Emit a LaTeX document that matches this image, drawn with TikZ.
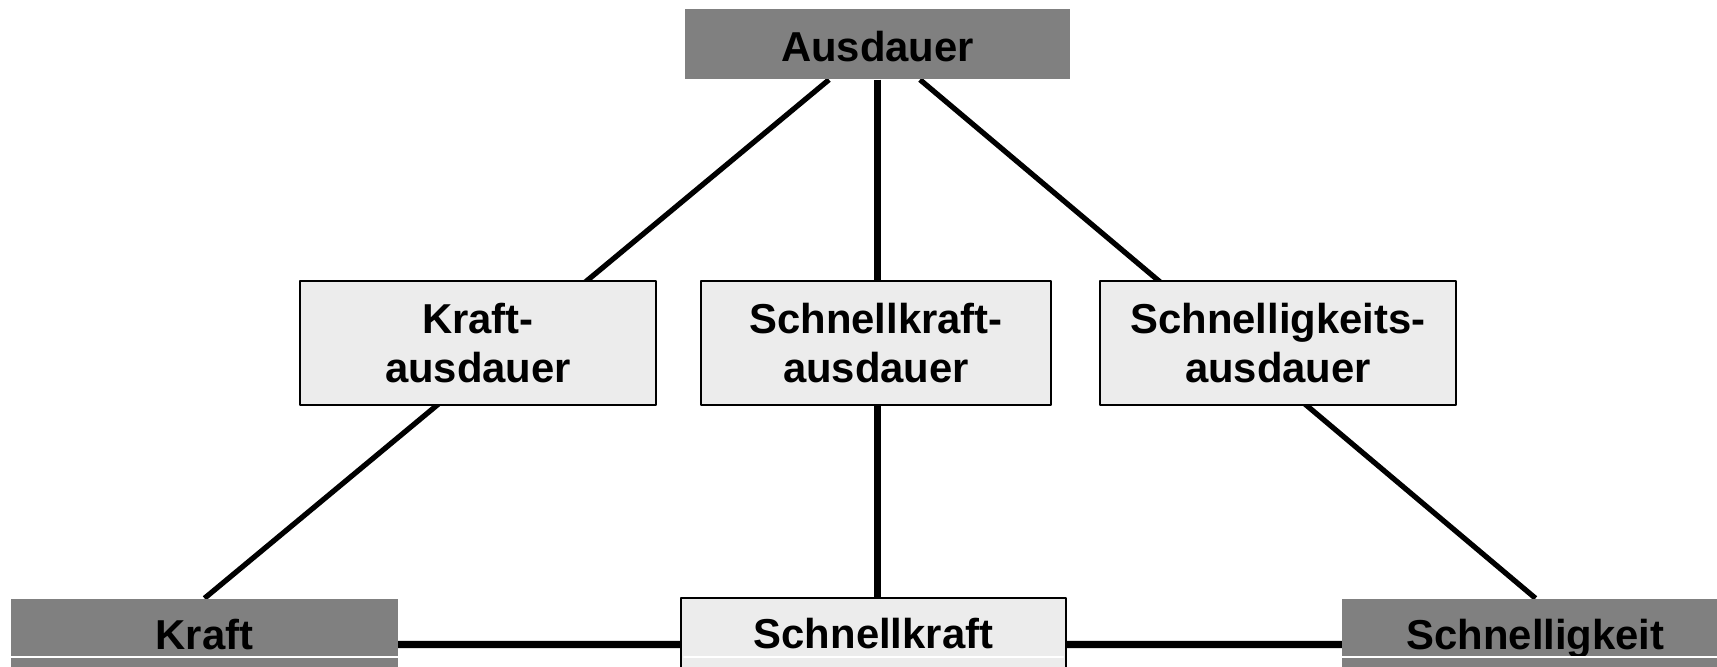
\documentclass[tikz,border=0pt]{standalone}
\usepackage{fontspec}
\setmainfont{Liberation Sans}
\usepackage{xcolor}
\usetikzlibrary{backgrounds}
\definecolor{boxgray}{RGB}{128,128,128}
\definecolor{boxlight}{RGB}{236,236,236}

\begin{document}
\begin{tikzpicture}[line join = round, line cap = round,
    every node/.style={font=\fontsize{11.9}{14}\selectfont\bfseries, inner sep=0pt, align=center},
    topbox/.style={fill=boxgray, minimum width=3.85cm, minimum height=0.70cm, text height=10.2pt, text depth=0pt},
    midbox/.style={fill=boxlight, draw=black, line width=0.75pt, minimum width=3.56cm, minimum height=1.24cm},
    sidebox/.style={fill=boxgray, minimum width=3.87cm, minimum height=0.72cm, text height=8.5pt, text depth=0pt},
    centerbox/.style={fill=boxlight, draw=black, line width=0.75pt, minimum width=3.85cm, minimum height=0.72cm, text height=8.5pt, text depth=0pt}]
                \useasboundingbox (0,0) rectangle (17.17,6.67);
                % top
                \node[topbox] (ausdauer) at (8.775,6.23) {Ausdauer};
                % middle row
                \node[midbox] (kraftausdauer) at (4.78,3.24) {Kraft-\\ausdauer};
                \node[midbox, minimum width=3.50cm] (schnellkraftausdauer) at (8.76,3.24) {Schnellkraft-\\ausdauer};
                \node[midbox] (schnelligkeitsausdauer) at (12.78,3.24) {Schnelligkeits-\\ausdauer};
                % bottom row
                \node[sidebox] (kraft) at (2.045,0.32) {Kraft};
                \node[centerbox] (schnellkraft) at (8.735,0.33) {Schnellkraft};
                \node[sidebox] (schnelligkeit) at (15.355,0.32) {Schnelligkeit};
                % thin white rules near the lower edge
                \draw[white, line width=0.4pt] (kraft.west |- 0,0.10) -- (kraft.east |- 0,0.10);
                \draw[white, line width=0.4pt] ([xshift=0.4mm]schnellkraft.west |- 0,0.10) -- ([xshift=-0.4mm]schnellkraft.east |- 0,0.10);
                \draw[white, line width=0.4pt] (schnelligkeit.west |- 0,0.10) -- (schnelligkeit.east |- 0,0.10);

                \begin{scope}[on background layer]
                  % sides of the triangle
                  \draw[line width=1.5pt] (kraft.north) -- ([xshift=-4.85mm]ausdauer.south);
                  \draw[line width=1.5pt] (schnelligkeit.north) -- ([xshift=4.25mm]ausdauer.south);
                  % middle
                  \draw[line width=1.8pt] (ausdauer) -- (ausdauer |- schnellkraft);
                  % bottom
                  \draw[line width=2.1pt] ([yshift=-0.95mm]kraft.center) -- ([yshift=-1.05mm]schnellkraft.center);
                  \draw[line width=2.1pt] ([yshift=-1.05mm]schnellkraft.center) -- ([yshift=-0.95mm]schnelligkeit.center);
                \end{scope}
              \end{tikzpicture}
\end{document}
